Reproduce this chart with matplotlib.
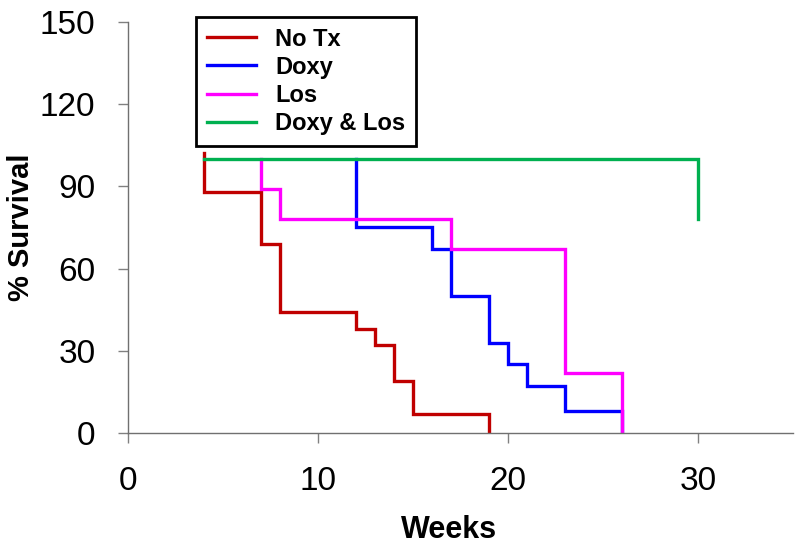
import matplotlib
matplotlib.use("Agg")
import matplotlib.pyplot as plt

# Kaplan-Meier style survival steps (weeks, % survival)
notx_weeks = [4, 4, 7, 8, 12, 13, 14, 15, 19, 19]
notx_surv = [102, 88, 69, 44, 38, 32, 19, 7, 7, 0]

doxy_weeks = [12, 12, 16, 17, 19, 20, 21, 23, 26, 26]
doxy_surv = [100, 75, 67, 50, 33, 25, 17, 8, 8, 0]

los_weeks = [7, 7, 8, 17, 23, 26, 26]
los_surv = [100, 89, 78, 67, 22, 22, 0]

combo_weeks = [4, 30, 30]
combo_surv = [100, 100, 78]

series = [
    ("No Tx", notx_weeks, notx_surv, "#C00000"),
    ("Doxy", doxy_weeks, doxy_surv, "#0000FF"),
    ("Los", los_weeks, los_surv, "#FF00FF"),
    ("Doxy & Los", combo_weeks, combo_surv, "#00B050"),
]

x_ticks = [0, 10, 20, 30]
y_ticks = [0, 30, 60, 90, 120, 150]

plt.rcParams["font.family"] = ["Liberation Sans", "DejaVu Sans"]

fig = plt.figure(figsize=(8, 5.46), dpi=100)
ax = fig.add_axes([0.16, 0.207, 0.831, 0.753])

for label, wk, sv, col in series:
    ax.step(wk, sv, where="post", color=col, lw=2.4, label=label,
            solid_joinstyle="miter")

ax.set_xlim(0, 35)
ax.set_ylim(0, 150)
ax.set_xticks(x_ticks)
ax.set_yticks(y_ticks)
ax.tick_params(axis="both", direction="out", length=7.5, width=1,
               color="#808080", labelsize=24, pad=16)

for s in ["top", "right"]:
    ax.spines[s].set_visible(False)
for s in ["left", "bottom"]:
    ax.spines[s].set_color("#707070")
    ax.spines[s].set_linewidth(1)

ax.set_xlabel("Weeks", fontsize=22, fontweight="bold")
ax.set_ylabel("% Survival", fontsize=21, fontweight="bold")
ax.xaxis.set_label_coords(0.483, -0.2)
ax.yaxis.set_label_coords(-0.14, 0.5)

leg = ax.legend(loc="upper left", bbox_to_anchor=(0.245, 0.969),
                bbox_transform=fig.transFigure, borderaxespad=0,
                fancybox=False, edgecolor="black", framealpha=1,
                handlelength=2.1, handletextpad=0.8, borderpad=0.45,
                labelspacing=0.22, prop={"weight": "bold", "size": 17})
leg.get_frame().set_linewidth(2)

fig.savefig("out.png", dpi=100)
